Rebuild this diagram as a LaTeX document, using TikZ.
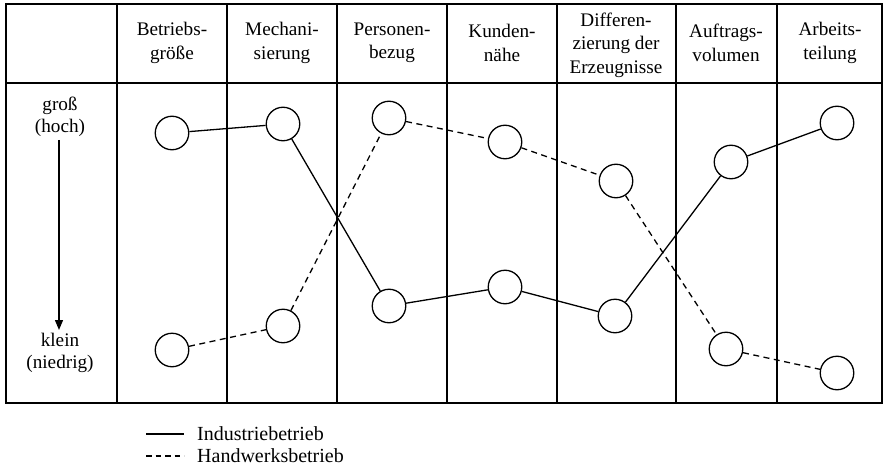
\documentclass[tikz,border=0pt]{standalone}
\usepackage{fontspec}
\setmainfont{Liberation Serif}
\usetikzlibrary{arrows.meta}
\begin{document}
\begin{tikzpicture}[x=1pt,y=-1pt,
  frame/.style={line width=1.9pt},
  pt/.style={circle,draw,line width=1.3pt,minimum size=33.5pt,inner sep=0pt},
  ind/.style={line width=1.3pt},
  hw/.style={line width=1.3pt,dash pattern=on 6pt off 4.5pt},
  head/.style={align=center,font=\fontsize{19.2}{23.5}\selectfont,inner sep=0pt},
  lbl/.style={align=center,font=\fontsize{19.2}{21.5}\selectfont,inner sep=0pt},
  leg/.style={anchor=west,font=\fontsize{20}{20}\selectfont,inner sep=0pt}]
\useasboundingbox (0,0) rectangle (883,468);
% table frame
\draw[frame] (6,4) rectangle (882,403);
\draw[frame] (6,83) -- (882,83);
\foreach \x in {117,227,337,447,557,676,777}{\draw[frame] (\x,4) -- (\x,403);}
% headers
\node[head] (h1) at (172,43) {Betriebs-\\größe};
\node[head] (h2) at (282,43) {Mechani-\\sierung};
\node[head] (h3) at (392,43) {Personen-\\bezug};
\node[head] (h4) at (502,43) {Kunden-\\nähe};
\node[head] (h5) at (616,45) {Differen-\\zierung der\\Erzeugnisse};
\node[head] (h6) at (726,43) {Auftrags-\\volumen};
\node[head] (h7) at (830,43) {Arbeits-\\teilung};
% scale labels
\node[lbl] (gross) at (60,117) {groß\\(hoch)};
\node[lbl] (klein) at (60,353) {klein\\(niedrig)};
\coordinate (a1) at (59,140);
\coordinate (a2) at (59,330);
\draw[line width=1.3pt,-{Triangle[length=10pt,width=8pt]}] (a1) -- (a2);
% points
\node[pt] (b1) at (172,133) {};
\node[pt] (b2) at (172,350) {};
\node[pt] (m1) at (283,124) {};
\node[pt] (m2) at (283,326) {};
\node[pt] (p1) at (389,118) {};
\node[pt] (p2) at (389,306) {};
\node[pt] (k1) at (505,142) {};
\node[pt] (k2) at (505,287) {};
\node[pt] (d1) at (616,181) {};
\node[pt] (d2) at (615,316) {};
\node[pt] (u1) at (731,162) {};
\node[pt] (u2) at (726,349) {};
\node[pt] (r1) at (837,123) {};
\node[pt] (r2) at (837,373) {};
% Industriebetrieb
\draw[ind] (b1) -- (m1) -- (p2) -- (k2) -- (d2) -- (u1) -- (r1);
% Handwerksbetrieb
\draw[hw] (b2) -- (m2) -- (p1) -- (k1) -- (d1) -- (u2) -- (r2);
% legend
\coordinate (l1a) at (146,434);
\coordinate (l1b) at (184,434);
\coordinate (l2a) at (146,456);
\coordinate (l2b) at (184,456);
\draw[ind] (l1a) -- (l1b);
\draw[hw,dash pattern=on 5.5pt off 4pt] (l2a) -- (l2b);
\node[leg] (t1) at (197,434) {Industriebetrieb};
\node[leg] (t2) at (197,456) {Handwerksbetrieb};
\end{tikzpicture}
\end{document}
